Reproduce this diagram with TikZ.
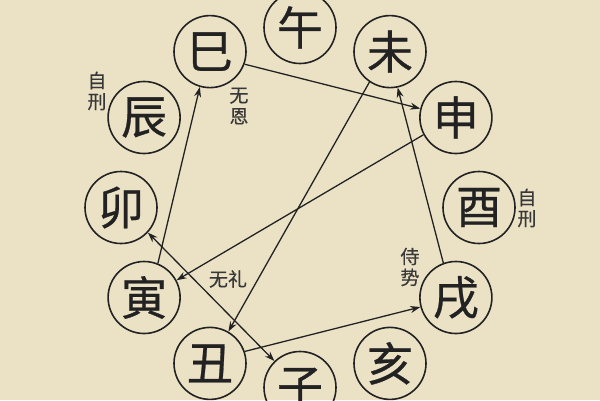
\documentclass[tikz,border=0pt]{standalone}
\usepackage{fontspec}
\newfontfamily\cjk[FakeBold=0.6]{Noto Sans CJK SC}
\newfontfamily\cjklbl[FakeBold=0.4]{Noto Sans CJK SC}
\usetikzlibrary{arrows.meta}
\definecolor{paper}{HTML}{EBE2C6}
\definecolor{ink}{HTML}{222222}
\tikzset{
  branch/.style={circle, draw=ink, line width=1.6pt, minimum size=72pt, inner sep=0pt,
    text=ink, font=\cjk\fontsize{46}{46}\selectfont},
  lbl/.style={text=ink!90, font=\cjklbl\fontsize{19}{21}\selectfont, align=center, inner sep=0pt},
  conn/.style={draw=ink, line width=1.3pt, -{Stealth[length=10pt,width=7pt]}},
  conn2/.style={draw=ink, line width=1.3pt, {Stealth[length=10pt,width=7pt]}-{Stealth[length=10pt,width=7pt]}}
}
\begin{document}
\begin{tikzpicture}[x=1pt,y=-1pt]
\fill[paper] (0,0) rectangle (600,400);
\useasboundingbox (0,0) rectangle (600,400);
\node[branch] (wu)   at (300,27.5)  {午};
\node[branch] (wei)  at (390,51.6)  {未};
\node[branch] (shen) at (455.9,117.5) {申};
\node[branch] (you)  at (479,207.5) {酉};
\node[branch] (xu)   at (455.9,297.5) {戌};
\node[branch] (hai)  at (390,363.4) {亥};
\node[branch] (zi)   at (300,387.5) {子};
\node[branch] (chou) at (210,363.4) {丑};
\node[branch] (yin)  at (144.1,297.5) {寅};
\node[branch] (mao)  at (121,207.5) {卯};
\node[branch] (chen) at (144.1,117.5) {辰};
\node[branch] (si)   at (210,51.6)  {巳};
\node[lbl] (l1) at (97,91) {自\\刑};
\node[lbl] (l2) at (239,106) {无\\恩};
\node[lbl] (l3) at (527,208) {自\\刑};
\node[lbl] (l4) at (410,267) {侍\\势};
\node[lbl] (l5) at (228,279) {无礼};
\draw[conn] (si.-20) -- (shen.166);
\draw[conn] (yin.68) -- (si.-106);
\draw[conn] (shen.208) -- (yin.28);
\draw[conn] (wei.236) -- (chou.60);
\draw[conn] (chou.19) -- (xu.195);
\draw[conn] (xu.110) -- (wei.-78);
\draw[conn2] (mao.-43) -- (zi.134);
\end{tikzpicture}
\end{document}
